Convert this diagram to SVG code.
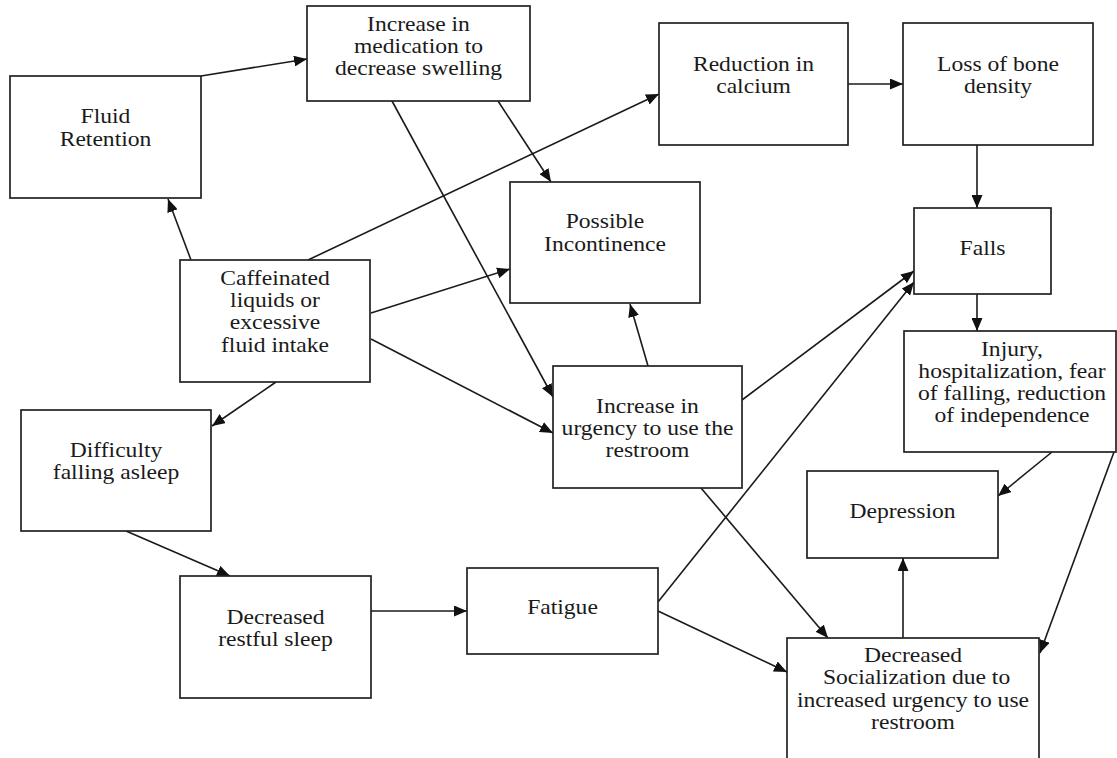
<svg xmlns="http://www.w3.org/2000/svg" width="1117" height="758" viewBox="0 0 1117 758">
<style>
.box{fill:#fff;stroke:#222;stroke-width:1.7}
.lbl{font-family:"Liberation Serif","Times New Roman",serif;font-size:20px;fill:#1a1a1a;text-anchor:middle}
.edge{fill:none;stroke:#1a1a1a;stroke-width:1.6}
</style>
<defs>
<marker id="ah" markerUnits="userSpaceOnUse" markerWidth="13" markerHeight="11" refX="13" refY="5.5" orient="auto">
<path d="M0,0 L13,5.5 L0,11 z" fill="#111"/>
</marker>
</defs>
<rect width="1117" height="758" fill="#fff"/>
<g id="connectors">
<line class="edge" x1="201" y1="76" x2="307" y2="59" marker-end="url(#ah)"/>
<line class="edge" x1="191" y1="260" x2="168" y2="199" marker-end="url(#ah)"/>
<line class="edge" x1="308" y1="260" x2="659" y2="94" marker-end="url(#ah)"/>
<line class="edge" x1="371" y1="313" x2="510" y2="269" marker-end="url(#ah)"/>
<line class="edge" x1="371" y1="339" x2="553" y2="433" marker-end="url(#ah)"/>
<line class="edge" x1="276" y1="382" x2="212" y2="426" marker-end="url(#ah)"/>
<line class="edge" x1="498" y1="101" x2="551" y2="182" marker-end="url(#ah)"/>
<line class="edge" x1="392" y1="101" x2="553" y2="397" marker-end="url(#ah)"/>
<line class="edge" x1="648" y1="366" x2="630" y2="304" marker-end="url(#ah)"/>
<line class="edge" x1="742" y1="400" x2="914" y2="271" marker-end="url(#ah)"/>
<line class="edge" x1="658" y1="602" x2="914" y2="282" marker-end="url(#ah)"/>
<line class="edge" x1="848" y1="84" x2="903" y2="84" marker-end="url(#ah)"/>
<line class="edge" x1="977" y1="145" x2="977" y2="208" marker-end="url(#ah)"/>
<line class="edge" x1="977" y1="294" x2="977" y2="331" marker-end="url(#ah)"/>
<line class="edge" x1="1052" y1="452" x2="998" y2="496" marker-end="url(#ah)"/>
<line class="edge" x1="1114" y1="452" x2="1040" y2="653" marker-end="url(#ah)"/>
<line class="edge" x1="903" y1="638" x2="903" y2="558" marker-end="url(#ah)"/>
<line class="edge" x1="701" y1="488" x2="828" y2="638" marker-end="url(#ah)"/>
<line class="edge" x1="658" y1="611" x2="787" y2="672" marker-end="url(#ah)"/>
<line class="edge" x1="371" y1="611" x2="467" y2="611" marker-end="url(#ah)"/>
<line class="edge" x1="126" y1="531" x2="230" y2="576" marker-end="url(#ah)"/>
</g>
<g id="fluid-retention">
<rect class="box" x="10" y="76" width="191" height="122"/>
<text class="lbl" transform="translate(105.5,123) scale(1.18,1)"><tspan x="0" y="0">Fluid</tspan><tspan x="0" y="23">Retention</tspan></text>
</g>
<g id="medication">
<rect class="box" x="307" y="6" width="223" height="95"/>
<text class="lbl" transform="translate(418.5,31) scale(1.18,1)"><tspan x="0" y="0">Increase in</tspan><tspan x="0" y="22">medication to</tspan><tspan x="0" y="44">decrease swelling</tspan></text>
</g>
<g id="reduction-calcium">
<rect class="box" x="659" y="23" width="189" height="122"/>
<text class="lbl" transform="translate(753.5,71) scale(1.18,1)"><tspan x="0" y="0">Reduction in</tspan><tspan x="0" y="22">calcium</tspan></text>
</g>
<g id="loss-bone-density">
<rect class="box" x="903" y="23" width="190" height="122"/>
<text class="lbl" transform="translate(998,71) scale(1.18,1)"><tspan x="0" y="0">Loss of bone</tspan><tspan x="0" y="22">density</tspan></text>
</g>
<g id="possible-incontinence">
<rect class="box" x="510" y="182" width="190" height="121"/>
<text class="lbl" transform="translate(605,228) scale(1.18,1)"><tspan x="0" y="0">Possible</tspan><tspan x="0" y="23">Incontinence</tspan></text>
</g>
<g id="falls">
<rect class="box" x="914" y="208" width="137" height="86"/>
<text class="lbl" transform="translate(982.5,255) scale(1.18,1)">Falls</text>
</g>
<g id="caffeinated">
<rect class="box" x="180" y="260" width="190" height="122"/>
<text class="lbl" transform="translate(275,285) scale(1.18,1)"><tspan x="0" y="0">Caffeinated</tspan><tspan x="0" y="22">liquids or</tspan><tspan x="0" y="44.5">excessive</tspan><tspan x="0" y="67">fluid intake</tspan></text>
</g>
<g id="injury">
<rect class="box" x="904" y="331" width="212" height="121"/>
<text class="lbl" transform="translate(1012,356) scale(1.18,1)"><tspan x="0" y="0">Injury,</tspan><tspan x="0" y="22">hospitalization, fear</tspan><tspan x="0" y="44">of falling, reduction</tspan><tspan x="0" y="66">of independence</tspan></text>
</g>
<g id="urgency">
<rect class="box" x="553" y="366" width="189" height="122"/>
<text class="lbl" transform="translate(647.5,413) scale(1.18,1)"><tspan x="0" y="0">Increase in</tspan><tspan x="0" y="22">urgency to use the</tspan><tspan x="0" y="44">restroom</tspan></text>
</g>
<g id="difficulty-sleep">
<rect class="box" x="21" y="410" width="190" height="121"/>
<text class="lbl" transform="translate(116,457) scale(1.18,1)"><tspan x="0" y="0">Difficulty</tspan><tspan x="0" y="22">falling asleep</tspan></text>
</g>
<g id="depression">
<rect class="box" x="807" y="471" width="191" height="87"/>
<text class="lbl" transform="translate(902.5,518) scale(1.18,1)">Depression</text>
</g>
<g id="fatigue">
<rect class="box" x="467" y="568" width="191" height="86"/>
<text class="lbl" transform="translate(562.5,614) scale(1.18,1)">Fatigue</text>
</g>
<g id="restful-sleep">
<rect class="box" x="180" y="576" width="191" height="122"/>
<text class="lbl" transform="translate(275.5,624) scale(1.18,1)"><tspan x="0" y="0">Decreased</tspan><tspan x="0" y="22">restful sleep</tspan></text>
</g>
<g id="socialization">
<rect class="box" x="787" y="638" width="252" height="130"/>
<text class="lbl" transform="translate(913,662) scale(1.18,1)"><tspan x="0" y="0">Decreased</tspan><tspan x="3" y="22">Socialization due to</tspan><tspan x="0" y="45">increased urgency to use</tspan><tspan x="0" y="67">restroom</tspan></text>
</g>
</svg>
